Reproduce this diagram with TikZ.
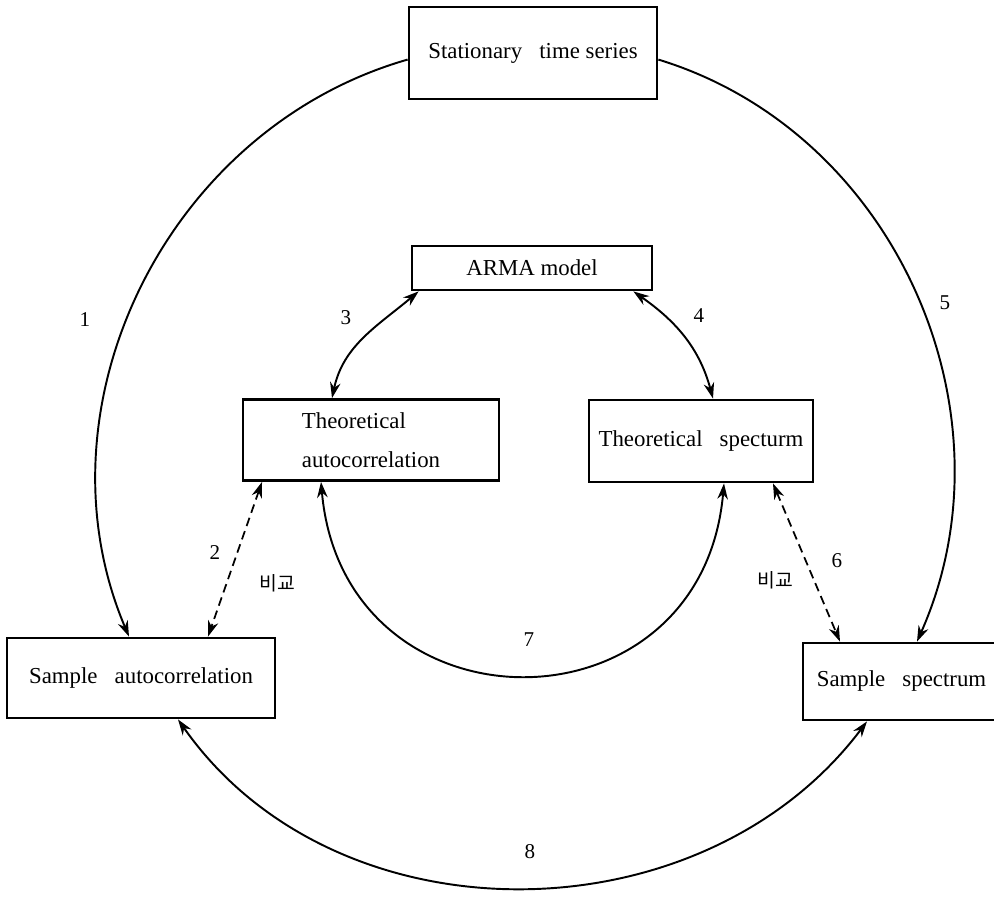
\documentclass[tikz,border=0pt]{standalone}
\usepackage{fontspec}
\setmainfont{Liberation Serif}
\newfontfamily\kofont{Noto Sans CJK KR}
\usetikzlibrary{arrows.meta,positioning,calc}

\begin{document}
\begin{tikzpicture}[x=0.02cm, y=-0.02cm, >={Stealth[length=9pt,width=6pt]}]
        \tikzset{
            block/.style={draw, fill=white, rectangle, inner sep=2pt, align=center, line width=1.6pt, font=\fontsize{13}{22}\selectfont},
            link/.style={<->, line width=1.1pt},
            oneway/.style={->, line width=1.1pt},
            cmp/.style={<->, line width=1pt, dash pattern=on 5pt off 3pt},
            num/.style={font=\fontsize{12}{14}\selectfont},
            note/.style={font=\kofont\fontsize{11}{13}\selectfont}
        }
        \useasboundingbox (0,0) rectangle (994,899);

        % Nodes
        \node [block, minimum width=4.96cm, minimum height=1.84cm] (stat) at (533,53) {Stationary~~~time series};
        \node [block, minimum width=4.8cm, minimum height=0.88cm] (arma) at (532,268) {ARMA model};
        \node [block, align=left, minimum width=5.12cm, minimum height=1.62cm] (tauto) at (371,440) {Theoretical\\autocorrelation};
        \node [block, minimum width=4.48cm, minimum height=1.64cm] (tspec) at (701,441) {Theoretical~~~specturm};
        \node [block, minimum width=5.36cm, minimum height=1.6cm] (sauto) at (141,678) {Sample~~~autocorrelation};
        \node [block, minimum width=3.94cm, minimum height=1.54cm] (sspec) at (901.5,681.5) {Sample~~~spectrum};

        % Connections
        \draw [oneway] (stat.183) to[out=196, in=113] ([xshift=-0.24cm]sauto.north);
        \draw [oneway] (stat.-3) to[out=-17, in=66] ([xshift=0.31cm]sspec.north);
        \draw [link] ([xshift=0.16cm]arma.south west) to[out=220, in=78] ([xshift=-0.78cm]tauto.north);
        \draw [link] ([xshift=-0.4cm]arma.south east) to[out=-35, in=105] ([xshift=0.24cm]tspec.north);
        \draw [cmp] ([xshift=-2.18cm]tauto.south) -- ([xshift=1.34cm]sauto.north);
        \draw [cmp] ([xshift=1.44cm]tspec.south) -- ([xshift=-1.23cm]sspec.north);
        \draw [link] ([xshift=-1.0cm]tauto.south) to[out=-85, in=-95, looseness=1.63] ([xshift=0.46cm]tspec.south);
        \draw [link] ([xshift=0.74cm]sauto.south) to[out=-55, in=-127, looseness=1.02] ([xshift=-0.69cm]sspec.south);

        % Labels
        \node [num] (n1) at (85,320) {1};
        \node [num] (n2) at (215,553) {2};
        \node [num] (n3) at (346,318) {3};
        \node [num] (n4) at (699,316) {4};
        \node [num] (n5) at (945,303) {5};
        \node [num] (n6) at (837,561) {6};
        \node [num] (n7) at (529,640) {7};
        \node [num] (n8) at (530,852) {8};
        \node [note] (cmpl) at (277,583) {비교};
        \node [note] (cmpr) at (775,580) {비교};
    \end{tikzpicture}
\end{document}
